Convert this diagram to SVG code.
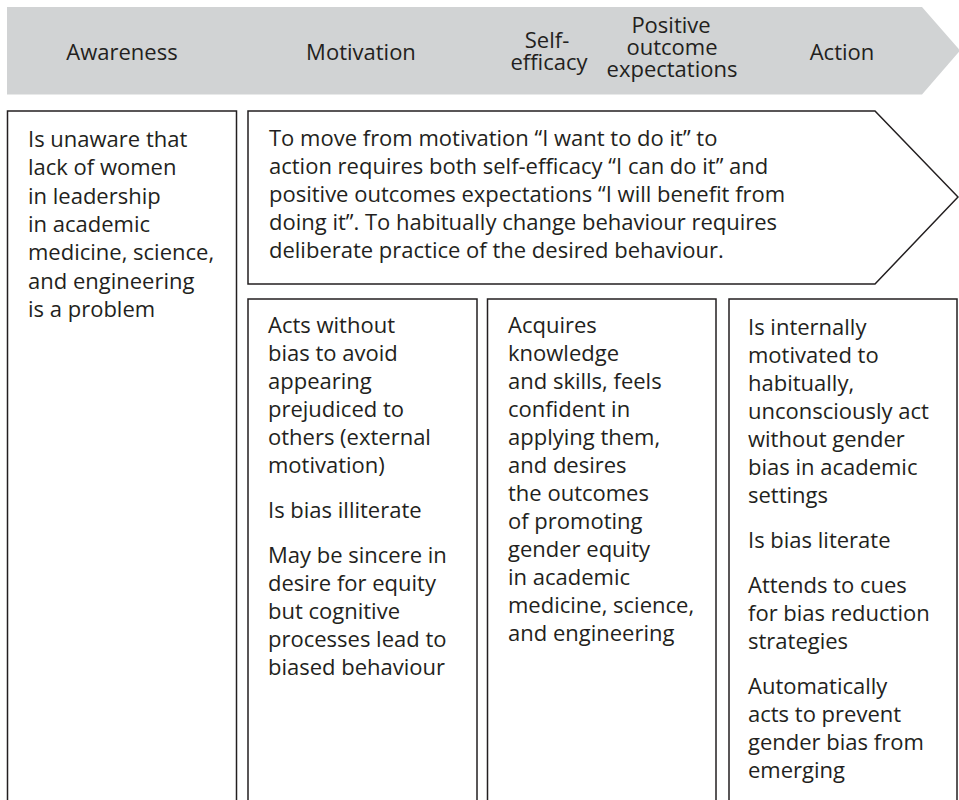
<svg xmlns="http://www.w3.org/2000/svg" width="959" height="800" viewBox="0 0 959 800">
<style>
.t{font-family:"Open Sans","Noto Sans","Liberation Sans",sans-serif;font-size:22px;fill:#231f20}
.h{text-anchor:middle}
.b{fill:#fff;stroke:#231f20;stroke-width:1.5}
</style>
<rect width="959" height="800" fill="#fff"/>
<g id="banner">
<polygon points="7,7 922,7 960,50.5 922,94.5 7,94.5" fill="#d1d3d4"/>
<text class="t h" x="122" y="60">Awareness</text>
<text class="t h" x="361" y="60">Motivation</text>
<text class="t h" x="547" y="48">Self-</text>
<text class="t h" x="549" y="70">efficacy</text>
<text class="t h" x="671" y="33">Positive</text>
<text class="t h" x="672" y="55">outcome</text>
<text class="t h" x="672" y="77">expectations</text>
<text class="t h" x="842" y="60">Action</text>
</g>
<g id="awareness">
<rect class="b" x="7.5" y="111" width="229" height="700"/>
<text class="t" x="28" y="147">
<tspan x="28" dy="0">Is unaware that</tspan>
<tspan x="28" dy="28.3">lack of women</tspan>
<tspan x="28" dy="28.3">in leadership</tspan>
<tspan x="28" dy="28.3">in academic</tspan>
<tspan x="28" dy="28.3">medicine, science,</tspan>
<tspan x="28" dy="28.3">and engineering</tspan>
<tspan x="28" dy="28.3">is a problem</tspan>
</text>
</g>
<g id="arrow">
<polygon class="b" points="248,111 875,111 958,197 875,284 248,284"/>
<text class="t" x="269" y="146">
<tspan x="269" dy="0">To move from motivation “I want to do it” to</tspan>
<tspan x="269" dy="28">action requires both self-efficacy “I can do it” and</tspan>
<tspan x="269" dy="28">positive outcomes expectations “I will benefit from</tspan>
<tspan x="269" dy="28">doing it”. To habitually change behaviour requires</tspan>
<tspan x="269" dy="28">deliberate practice of the desired behaviour.</tspan>
</text>
</g>
<g id="motivation">
<rect class="b" x="248" y="299" width="229" height="520"/>
<text class="t" x="268" y="333">
<tspan x="268" dy="0">Acts without</tspan>
<tspan x="268" dy="28">bias to avoid</tspan>
<tspan x="268" dy="28">appearing</tspan>
<tspan x="268" dy="28">prejudiced to</tspan>
<tspan x="268" dy="28">others (external</tspan>
<tspan x="268" dy="28">motivation)</tspan>
<tspan x="268" dy="45">Is bias illiterate</tspan>
<tspan x="268" dy="45">May be sincere in</tspan>
<tspan x="268" dy="28">desire for equity</tspan>
<tspan x="268" dy="28">but cognitive</tspan>
<tspan x="268" dy="28">processes lead to</tspan>
<tspan x="268" dy="28">biased behaviour</tspan>
</text>
</g>
<g id="selfefficacy">
<rect class="b" x="487.5" y="299" width="228.5" height="520"/>
<text class="t" x="508" y="333">
<tspan x="508" dy="0">Acquires</tspan>
<tspan x="508" dy="28">knowledge</tspan>
<tspan x="508" dy="28">and skills, feels</tspan>
<tspan x="508" dy="28">confident in</tspan>
<tspan x="508" dy="28">applying them,</tspan>
<tspan x="508" dy="28">and desires</tspan>
<tspan x="508" dy="28">the outcomes</tspan>
<tspan x="508" dy="28">of promoting</tspan>
<tspan x="508" dy="28">gender equity</tspan>
<tspan x="508" dy="28">in academic</tspan>
<tspan x="508" dy="28">medicine, science,</tspan>
<tspan x="508" dy="28">and engineering</tspan>
</text>
</g>
<g id="action">
<rect class="b" x="729" y="299" width="228" height="520"/>
<text class="t" x="748" y="335">
<tspan x="748" dy="0">Is internally</tspan>
<tspan x="748" dy="28">motivated to</tspan>
<tspan x="748" dy="28">habitually,</tspan>
<tspan x="748" dy="28">unconsciously act</tspan>
<tspan x="748" dy="28">without gender</tspan>
<tspan x="748" dy="28">bias in academic</tspan>
<tspan x="748" dy="28">settings</tspan>
<tspan x="748" dy="45">Is bias literate</tspan>
<tspan x="748" dy="45">Attends to cues</tspan>
<tspan x="748" dy="28">for bias reduction</tspan>
<tspan x="748" dy="28">strategies</tspan>
<tspan x="748" dy="45">Automatically</tspan>
<tspan x="748" dy="28">acts to prevent</tspan>
<tspan x="748" dy="28">gender bias from</tspan>
<tspan x="748" dy="28">emerging</tspan>
</text>
</g>
<g id="connectors"></g>
</svg>
